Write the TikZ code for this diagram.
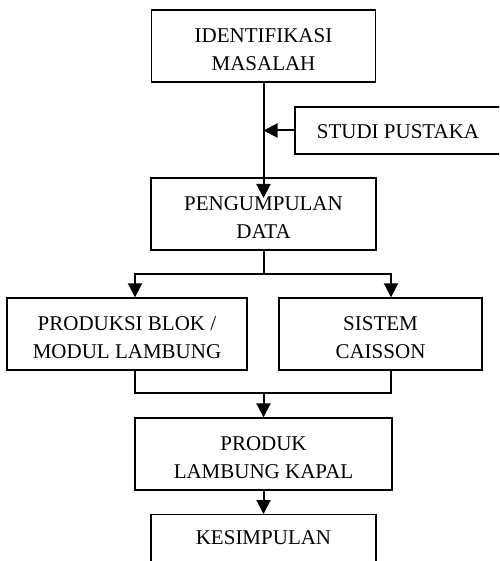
\documentclass[tikz,border=0pt]{standalone}
\usepackage{fontspec}
\setmainfont{Liberation Serif}
\usetikzlibrary{positioning, arrows.meta}

\begin{document}
\begin{tikzpicture}[
    x=1pt, y=1pt,
    >={Triangle[length=14pt,width=14pt]},
    every node/.style={font=\fontsize{21}{28}\selectfont},
    box/.style={draw, line width=1.4pt, align=center, minimum height=72pt, inner sep=0pt, text height=50pt},
    flow/.style={->, line width=2pt}
]
    \clip (0,0) rectangle (499,-561);

    \node[box, minimum width=224pt] (idn) at (263.5,-46) {IDENTIFIKASI\\MASALAH};
    \node[box, minimum width=206pt, minimum height=47pt, text height=16pt] (studi) at (398,-130.5) {STUDI PUSTAKA};
    \node[box, minimum width=225pt] (data) at (263.5,-214) {PENGUMPULAN\\DATA};
    \node[box, minimum width=240pt] (blok) at (127,-334) {PRODUKSI BLOK /\\MODUL LAMBUNG};
    \node[box, minimum width=203pt] (caisson) at (380.5,-334) {SISTEM\\CAISSON};
    \node[box, minimum width=257pt] (produk) at (263.5,-454) {PRODUK\\LAMBUNG KAPAL};
    \node[box, minimum width=225pt, minimum height=0pt, anchor=north,
          text height=30pt, text depth=42pt] (simpul) at (263.5,-514) {KESIMPULAN};

    \coordinate (tip) at (263.5,-198);
    \coordinate (fork) at (263.5,-274);
    \coordinate (join) at (263.5,-393);

    \draw[flow] (idn) -- (tip);
    \draw[flow] (studi) -- (studi.west -| idn);
    \draw[line width=2pt] (data) -- (fork);
    \draw[flow] (fork) -| ([xshift=8pt]blok.north);
    \draw[flow] (fork) -| ([xshift=10.5pt]caisson.north);
    \draw[line width=2pt] ([xshift=8pt]blok.south) |- (join) -| ([xshift=10.5pt]caisson.south);
    \draw[flow] (join) -- (produk);
    \draw[flow] (produk) -- (simpul);
\end{tikzpicture}
\end{document}
